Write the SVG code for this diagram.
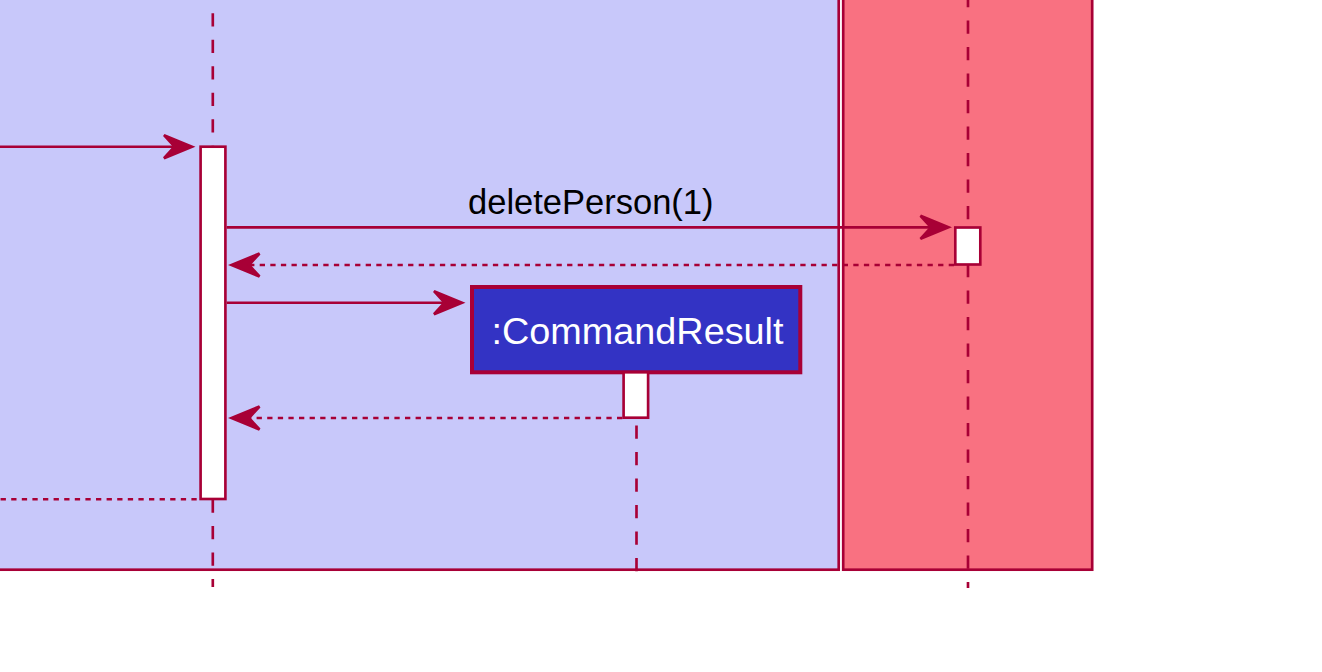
<svg xmlns="http://www.w3.org/2000/svg" width="1322" height="672" viewBox="0 0 1322 672">
<style>
.box{stroke:#A80036;stroke-width:2.65}
.life{stroke:#A80036;stroke-width:2.65;stroke-dasharray:13.25 13.25;fill:none}
.act{fill:#FFFFFF;stroke:#A80036;stroke-width:2.65}
.msg{stroke:#A80036;stroke-width:2.65;fill:none}
.ret{stroke:#A80036;stroke-width:2.65;stroke-dasharray:5.3 5.3;fill:none}
.lbl{font-family:"Liberation Sans",Arial,sans-serif;font-size:34.5px;fill:#000000}
.ptxt{font-family:"Liberation Sans",Arial,sans-serif;font-size:37.8px;fill:#FFFFFF}
</style>
<defs>
<marker id="arr" markerUnits="userSpaceOnUse" viewBox="-3 -15 36 30" refX="10.5" refY="0" markerWidth="36" markerHeight="30" orient="auto" overflow="visible">
<path d="M0,-11.5 L28,0 L0,11.5 L10.5,0 Z" fill="#A80036" stroke="#A80036" stroke-width="2.65" stroke-linejoin="miter" stroke-dasharray="none"/>
</marker>
</defs>
<rect width="1322" height="672" fill="#FFFFFF"/>
<g id="box-logic"><rect class="box" x="-20" y="-20" width="858.7" height="589.7" fill="#C8C8FA"/></g>
<g id="box-model"><rect class="box" x="843.2" y="-20" width="249" height="589.7" fill="#F97181"/></g>
<g id="lifelines">
<line class="life" x1="212.8" y1="-13.2" x2="212.8" y2="146.7"/>
<line class="life" x1="212.8" y1="499.5" x2="212.8" y2="587"/>
<line class="life" x1="968" y1="-6.1" x2="968" y2="227.5"/>
<line class="life" x1="968" y1="264" x2="968" y2="588"/>
<line class="life" x1="636.5" y1="425.5" x2="636.5" y2="573"/>
</g>
<g id="logic-manager"><rect class="act" x="200.6" y="146.7" width="24.8" height="352.3"/></g>
<g id="model"><rect class="act" x="955.3" y="227.5" width="25" height="37"/></g>
<g id="command-result">
<rect x="472" y="287" width="328.3" height="85.3" fill="#3333C4" stroke="#A80036" stroke-width="4"/>
<text class="ptxt" x="637.5" y="344" text-anchor="middle">:CommandResult</text>
<rect class="act" x="623.6" y="372.3" width="24.5" height="45.4"/>
</g>
<g id="connectors">
<line class="msg" x1="-10" y1="146.7" x2="174.5" y2="146.7" marker-end="url(#arr)"/>
<line class="msg" x1="226.7" y1="227.3" x2="931" y2="227.3" marker-end="url(#arr)"/>
<text class="lbl" x="590.8" y="213.5" text-anchor="middle">deletePerson(1)</text>
<line class="ret" x1="954" y1="265" x2="249" y2="265" marker-end="url(#arr)"/>
<line class="msg" x1="226.7" y1="302.7" x2="444.5" y2="302.7" marker-end="url(#arr)"/>
<line class="ret" x1="622.3" y1="418" x2="249" y2="418" marker-end="url(#arr)"/>
<line class="ret" x1="-10" y1="499.2" x2="199.3" y2="499.2"/>
</g>
</svg>
